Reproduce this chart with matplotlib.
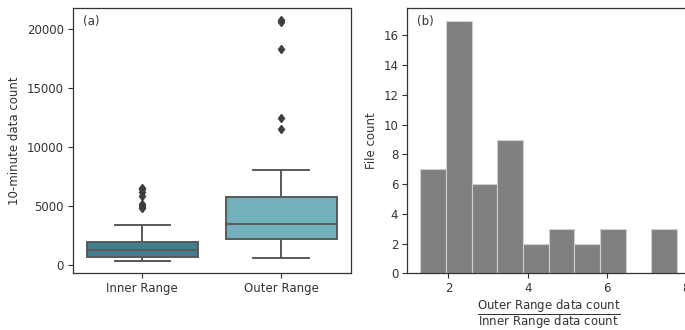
import numpy as np
import matplotlib
matplotlib.use("Agg")
import matplotlib.pyplot as plt

# Summary statistics of the 10-minute data counts per range
ranges = ["Inner Range", "Outer Range"]
q1 = [650, 2225]
median = [1270, 3490]
q3 = [1920, 5780]
whisker_low = [313, 590]
whisker_high = [3410, 8040]
fliers_inner = [4800, 5000, 5150, 5800, 6200, 6400, 6500]
fliers_outer = [11500, 12450, 18300, 20550, 20750]

# Histogram of the outer/inner count ratio
ratio_lo, ratio_hi, n_bins = 1.285, 7.77, 10
file_counts = [7, 17, 6, 9, 2, 3, 2, 3, 0, 3]

box_colors = ["#427e90", "#72b0bb"]
line_color = "#595959"
text_color = "#333333"

plt.rcParams.update({
    "font.family": "DejaVu Sans",
    "font.size": 8,
    "text.color": text_color,
    "axes.labelcolor": text_color,
    "xtick.color": text_color,
    "ytick.color": text_color,
    "axes.edgecolor": "#333333",
    "axes.linewidth": 0.9,
    "mathtext.fontset": "dejavusans",
})

W, H = 685, 330
fig = plt.figure(figsize=(W / 100, H / 100), dpi=100)

bottom = (H - 273.3) / H
height = (273.3 - 8) / H
ax1 = fig.add_axes([73 / W, bottom, (350.5 - 73) / W, height])
ax2 = fig.add_axes([407.3 / W, bottom, 282.5 / W, height])

# (a) box plots
stats = []
for i, name in enumerate(ranges):
    stats.append(dict(
        label=name, med=median[i], q1=q1[i], q3=q3[i],
        whislo=whisker_low[i], whishi=whisker_high[i],
        fliers=[fliers_inner, fliers_outer][i],
    ))
bp = ax1.bxp(
    stats, positions=[0, 1], widths=0.8, patch_artist=True,
    boxprops=dict(edgecolor=line_color, linewidth=1.4),
    medianprops=dict(color=line_color, linewidth=1.4),
    whiskerprops=dict(color=line_color, linewidth=1.4),
    capprops=dict(color=line_color, linewidth=1.4),
    capwidths=0.4,
    flierprops=dict(marker="d", markerfacecolor="#3d3d3d",
                    markeredgecolor="#3d3d3d", markersize=4.3, linestyle="none"),
)
for patch, c in zip(bp["boxes"], box_colors):
    patch.set_facecolor(c)
ax1.set_xlim(-0.5, 1.5)
all_vals = whisker_low + whisker_high + fliers_inner + fliers_outer
lo, hi = min(all_vals), max(all_vals)
pad = 0.05 * (hi - lo)
ax1.set_ylim(lo - pad, hi + pad)
ax1.set_yticks([0, 5000, 10000, 15000, 20000])
ax1.set_ylabel("10-minute data count", fontsize=8.5)
ax1.text(0.035, 0.975, "(a)", transform=ax1.transAxes, ha="left", va="top", fontsize=8.5)

# (b) histogram
edges = np.linspace(ratio_lo, ratio_hi, n_bins + 1)
centers = 0.5 * (edges[:-1] + edges[1:])
ax2.hist(centers, bins=edges, weights=file_counts, color="#808080",
         edgecolor="#d0d0d0", linewidth=0.8)
span = ratio_hi - ratio_lo
ax2.set_xlim(ratio_lo - 0.05 * span, ratio_hi + 0.05 * span)
ax2.set_ylim(0, max(file_counts) * 1.05)
ax2.set_xticks([2, 4, 6, 8])
ax2.set_yticks(range(0, 17, 2))
ax2.set_ylabel("File count", fontsize=8.5)
ax2.set_xlabel(r"$\dfrac{\mathrm{Outer\ Range\ data\ count}}{\mathrm{Inner\ Range\ data\ count}}$",
               fontsize=8.5, labelpad=1.5)
ax2.text(0.035, 0.975, "(b)", transform=ax2.transAxes, ha="left", va="top", fontsize=8.5)

for ax in (ax1, ax2):
    ax.tick_params(length=3.5, width=0.8, labelsize=8.5, pad=3)

fig.savefig("out.png", dpi=100, facecolor="white")
